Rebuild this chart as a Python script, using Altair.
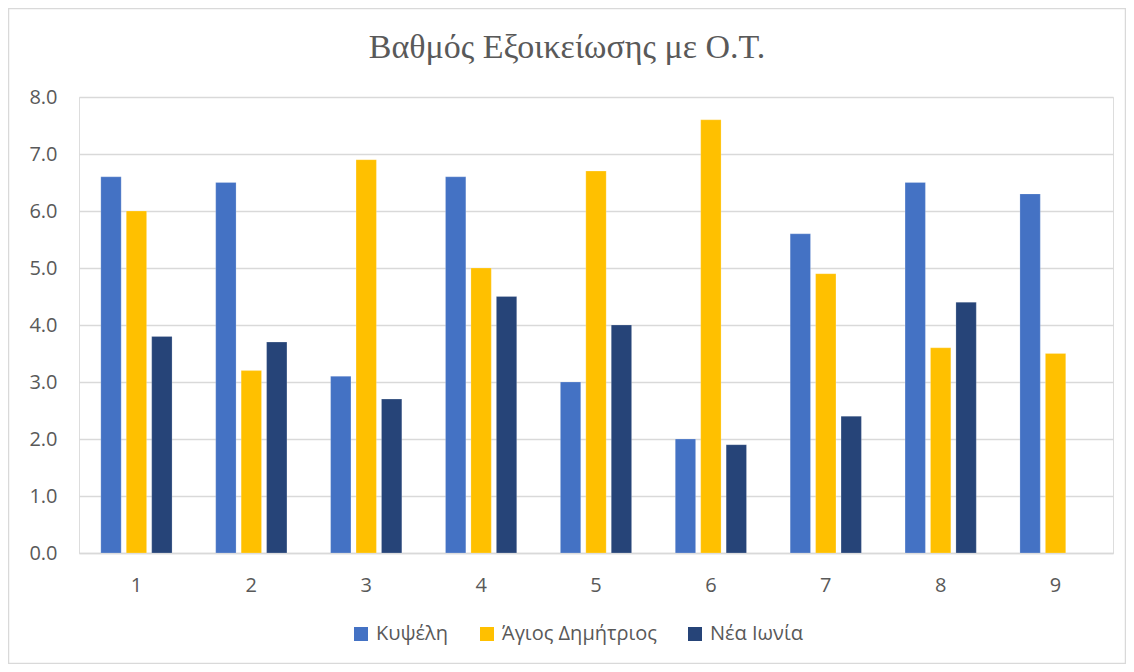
import altair as alt
import pandas as pd

categories = ["1", "2", "3", "4", "5", "6", "7", "8", "9"]
series = ["Κυψέλη", "Άγιος Δημήτριος", "Νέα Ιωνία"]
kypseli = [6.6, 6.5, 3.1, 6.6, 3.0, 2.0, 5.6, 6.5, 6.3]
agios = [6.0, 3.2, 6.9, 5.0, 6.7, 7.6, 4.9, 3.6, 3.5]
nea_ionia = [3.8, 3.7, 2.7, 4.5, 4.0, 1.9, 2.4, 4.4, None]
colors = ["#4472C4", "#FFC000", "#264478"]
title_text = "Βαθμός Εξοικείωσης με Ο.Τ."

rows = []
for name, vals in zip(series, [kypseli, agios, nea_ionia]):
    for c, v in zip(categories, vals):
        if v is not None:
            rows.append({"cat": c, "series": name, "value": v})
df = pd.DataFrame(rows)

W, H = 1034, 456
FONT = "Open Sans"
GREY = "#595959"
FS = 20

bars = alt.Chart(df).mark_bar(stroke="white", strokeWidth=0.5, strokeOpacity=0.4).encode(
    x=alt.X("cat:N", sort=categories, title=None,
            scale=alt.Scale(paddingInner=0.38, paddingOuter=0.19),
            axis=alt.Axis(labelAngle=0, labelFontSize=FS, labelColor=GREY, labelFont=FONT,
                          labelPadding=22, ticks=False, domainColor="#d9d9d9", domainWidth=1.5)),
    xOffset=alt.XOffset("series:N", sort=series, scale=alt.Scale(paddingInner=0.2)),
    y=alt.Y("value:Q", title=None,
            scale=alt.Scale(domain=[0, 8]),
            axis=alt.Axis(values=[0, 1, 2, 3, 4, 5, 6, 7, 8], format=".1f", labelFontSize=FS,
                          labelColor=GREY, labelFont=FONT, labelPadding=22, ticks=False,
                          domain=False, gridColor="#d9d9d9", gridWidth=1.5)),
    color=alt.Color("series:N", sort=series, title=None,
                    scale=alt.Scale(domain=series, range=colors),
                    legend=alt.Legend(orient="none", legendX=272, legendY=527, direction="horizontal",
                                      symbolType="square", symbolSize=196, symbolStrokeWidth=0,
                                      labelFontSize=FS, labelColor=GREY, labelFont=FONT,
                                      columnPadding=28, symbolOffset=0, labelOffset=5)),
)

frame = alt.Chart(pd.DataFrame({"a": [0]})).mark_rect(fill=None, stroke="#d9d9d9", strokeWidth=1.5).encode(
    x=alt.value(-70.5), x2=alt.value(1046.5), y=alt.value(-88.5), y2=alt.value(566.5)
)

title = alt.Chart(pd.DataFrame({"t": [title_text]})).mark_text(
    font="Liberation Serif", fontSize=34, color=GREY, align="center", baseline="middle"
).encode(text="t:N", x=alt.value(488), y=alt.value(-49))

chart = alt.layer(frame, bars, title).properties(
    width=W, height=H,
    autosize=alt.AutoSizeParams(type="none"),
    padding={"left": 71, "top": 89, "right": 13, "bottom": 111},
).configure_view(stroke=None).configure(background="white")

chart.save("out.html", embed_options={"renderer": "svg", "actions": False})
